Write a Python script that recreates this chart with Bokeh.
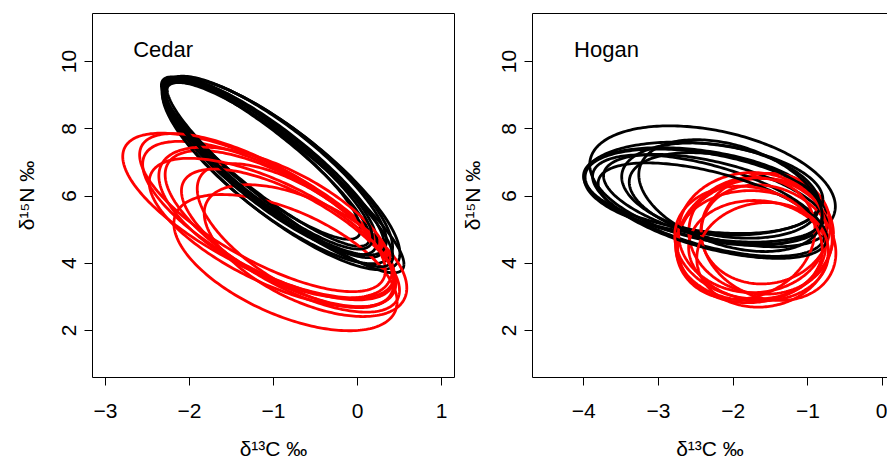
import numpy as np
from bokeh.plotting import figure
from bokeh.models import ColumnDataSource, FixedTicker, Label, LinearAxis, Range1d
from bokeh.layouts import row
from bokeh.embed import file_html
from bokeh.resources import INLINE

# ---------------- data ----------------
# Each ellipse: centre (x, y), half-extent along x (sx), half-extent along y (sy),
# and correlation r (tilt), all in data units.
# Cedar
CEDAR_BLACK_X = [-1.000, -0.905, -1.095, -1.143, -0.952, -0.857, -1.048, -0.976, -0.929, -1.071]
CEDAR_BLACK_Y = [6.845, 6.667, 7.024, 7.113, 6.756, 6.577, 6.875, 6.905, 6.637, 6.970]
CEDAR_BLACK_SX = [1.32, 1.41, 1.24, 1.18, 1.37, 1.41, 1.28, 1.32, 1.35, 1.25]
CEDAR_BLACK_SY = [2.68, 2.86, 2.52, 2.40, 2.77, 2.86, 2.62, 2.66, 2.74, 2.55]
CEDAR_BLACK_R = [-0.86, -0.83, -0.90, -0.88, -0.82, -0.91, -0.85, -0.84, -0.89, -0.87]

CEDAR_RED_X = [-1.179, -1.060, -0.917, -0.738, -0.857, -0.619, -1.131, -0.976, -0.798, -1.012]
CEDAR_RED_Y = [5.417, 5.268, 5.030, 4.821, 4.018, 4.375, 5.506, 5.208, 4.673, 4.911]
CEDAR_RED_SX = [1.616, 1.498, 1.373, 1.170, 1.329, 1.206, 1.463, 1.389, 1.298, 1.468]
CEDAR_RED_SY = [2.452, 2.357, 2.324, 2.143, 2.027, 1.961, 2.351, 2.244, 2.128, 2.211]
CEDAR_RED_R = [-0.716, -0.711, -0.692, -0.650, -0.572, -0.567, -0.731, -0.619, -0.695, -0.676]

# Hogan
HOGAN_BLACK_X = [-2.277, -2.371, -2.438, -2.237, -2.170, -2.331, -2.103, -2.398, -2.277, -2.036]
HOGAN_BLACK_Y = [6.310, 6.012, 6.161, 5.863, 6.161, 5.714, 5.923, 6.220, 5.565, 6.012]
HOGAN_BLACK_SX = [1.644, 1.612, 1.566, 1.499, 1.323, 1.552, 1.289, 1.598, 1.531, 1.228]
HOGAN_BLACK_SY = [1.777, 1.384, 1.277, 1.375, 1.417, 1.509, 1.366, 1.384, 1.420, 1.664]
HOGAN_BLACK_R = [-0.350, -0.401, -0.338, -0.534, -0.290, -0.577, -0.361, -0.232, -0.572, -0.374]

HOGAN_RED_X = [-1.701, -1.635, -1.768, -1.568, -1.661, -1.835, -1.527, -1.742, -1.608, -1.796]
HOGAN_RED_Y = [4.673, 4.821, 4.524, 5.030, 4.375, 4.732, 4.613, 4.911, 4.250, 4.613]
HOGAN_RED_SX = [1.043, 0.959, 1.004, 0.866, 0.936, 0.929, 0.901, 0.991, 0.880, 0.987]
HOGAN_RED_SY = [1.848, 1.741, 1.637, 1.646, 1.491, 1.807, 1.720, 1.786, 1.557, 1.679]
HOGAN_RED_R = [0.10, -0.07, 0.00, 0.06, -0.06, 0.15, -0.18, 0.00, 0.07, -0.12]

CEDAR_X_TICKS = [-3, -2, -1, 0, 1]
CEDAR_X_LABELS = ["\u22123", "\u22122", "\u22121", "0", "1"]
HOGAN_X_TICKS = [-4, -3, -2, -1, 0]
HOGAN_X_LABELS = ["\u22124", "\u22123", "\u22122", "\u22121", "0"]
Y_TICKS = [2, 4, 6, 8, 10]
Y_LABELS = ["2", "4", "6", "8", "10"]

X_TITLE = "\u03b4\u00b9\u00b3C \u2030"
Y_TITLE = "\u03b4\u00b9\u2075N \u2030"

FONT = "Liberation Sans"
T = np.linspace(0.0, 2.0 * np.pi, 241)


def outline(cx, cy, sx, sy, r):
    xs = cx + sx * np.cos(T)
    ys = cy + sy * (r * np.cos(T) + np.sqrt(1.0 - r * r) * np.sin(T))
    return list(xs), list(ys)


def build_source(black, red):
    d = dict(xs=[], ys=[], c=[])
    for i in range(len(black[0])):
        for grp, col in ((black, "black"), (red, "#ff0000")):
            xs, ys = outline(*(g[i] for g in grp))
            d["xs"].append(xs)
            d["ys"].append(ys)
            d["c"].append(col)
    return ColumnDataSource(d)


def make_panel(width, border_left, border_right, xr, xticks, xlabels, name, name_x, src,
               full_box, ytitle_standoff):
    p = figure(width=width, height=462, x_range=Range1d(*xr), y_range=Range1d(0.6, 11.43),
               output_backend="svg", toolbar_location=None,
               min_border_left=border_left, min_border_right=border_right,
               min_border_top=13, min_border_bottom=85)
    p.grid.visible = False
    p.background_fill_color = "white"
    p.border_fill_color = "white"

    p.multi_line(xs="xs", ys="ys", line_color="c", line_width=2.8, line_join="round", source=src)

    xa = p.below[0]
    ya = p.left[0]
    for ax in (xa, ya):
        ax.major_tick_out = 8
        ax.major_tick_in = 0
        ax.minor_tick_line_color = None
        ax.major_tick_line_color = "black"
        ax.axis_line_color = None if full_box else "black"
        ax.major_label_text_font = FONT
        ax.major_label_text_font_size = "21px"
        ax.major_label_text_color = "black"
        ax.axis_label_text_font = FONT
        ax.axis_label_text_font_size = "21px"
        ax.axis_label_text_font_style = "normal"
        ax.axis_label_text_color = "black"

    xa.ticker = FixedTicker(ticks=xticks)
    xa.major_label_overrides = {t: l for t, l in zip(xticks, xlabels)}
    xa.major_label_standoff = 18
    xa.axis_label = X_TITLE
    xa.axis_label_standoff = 16

    ya.ticker = FixedTicker(ticks=Y_TICKS)
    ya.major_label_overrides = {t: l for t, l in zip(Y_TICKS, Y_LABELS)}
    ya.major_label_orientation = "vertical"
    ya.major_label_standoff = 8
    ya.axis_label = Y_TITLE
    ya.axis_label_standoff = ytitle_standoff

    if full_box:
        p.outline_line_color = "black"
        p.outline_line_width = 1
    else:
        p.outline_line_color = None
        top = LinearAxis(ticker=FixedTicker(ticks=[]), major_tick_out=0, major_tick_in=0,
                         minor_tick_out=0, minor_tick_in=0, major_label_standoff=0,
                         axis_line_color="black", axis_line_width=1)
        p.add_layout(top, "above")

    p.add_layout(Label(x=name_x, y=10.36, text=name, text_font=FONT, text_font_size="22px",
                       text_color="black", text_baseline="alphabetic", text_align="left"))
    return p


cedar_src = build_source(
    (CEDAR_BLACK_X, CEDAR_BLACK_Y, CEDAR_BLACK_SX, CEDAR_BLACK_SY, CEDAR_BLACK_R),
    (CEDAR_RED_X, CEDAR_RED_Y, CEDAR_RED_SX, CEDAR_RED_SY, CEDAR_RED_R))
hogan_src = build_source(
    (HOGAN_BLACK_X, HOGAN_BLACK_Y, HOGAN_BLACK_SX, HOGAN_BLACK_SY, HOGAN_BLACK_R),
    (HOGAN_RED_X, HOGAN_RED_Y, HOGAN_RED_SX, HOGAN_RED_SY, HOGAN_RED_R))

p1 = make_panel(455, 92, 1, (-3.155, 1.155), CEDAR_X_TICKS, CEDAR_X_LABELS, "Cedar", -2.67,
                cedar_src, True, 22)
p2 = make_panel(432, 77, 0, (-4.687, 0.065), HOGAN_X_TICKS, HOGAN_X_LABELS, "Hogan", -4.13,
                hogan_src, False, 16)

layout = row(p1, p2)
open("out.html", "w").write(file_html(layout, INLINE))
